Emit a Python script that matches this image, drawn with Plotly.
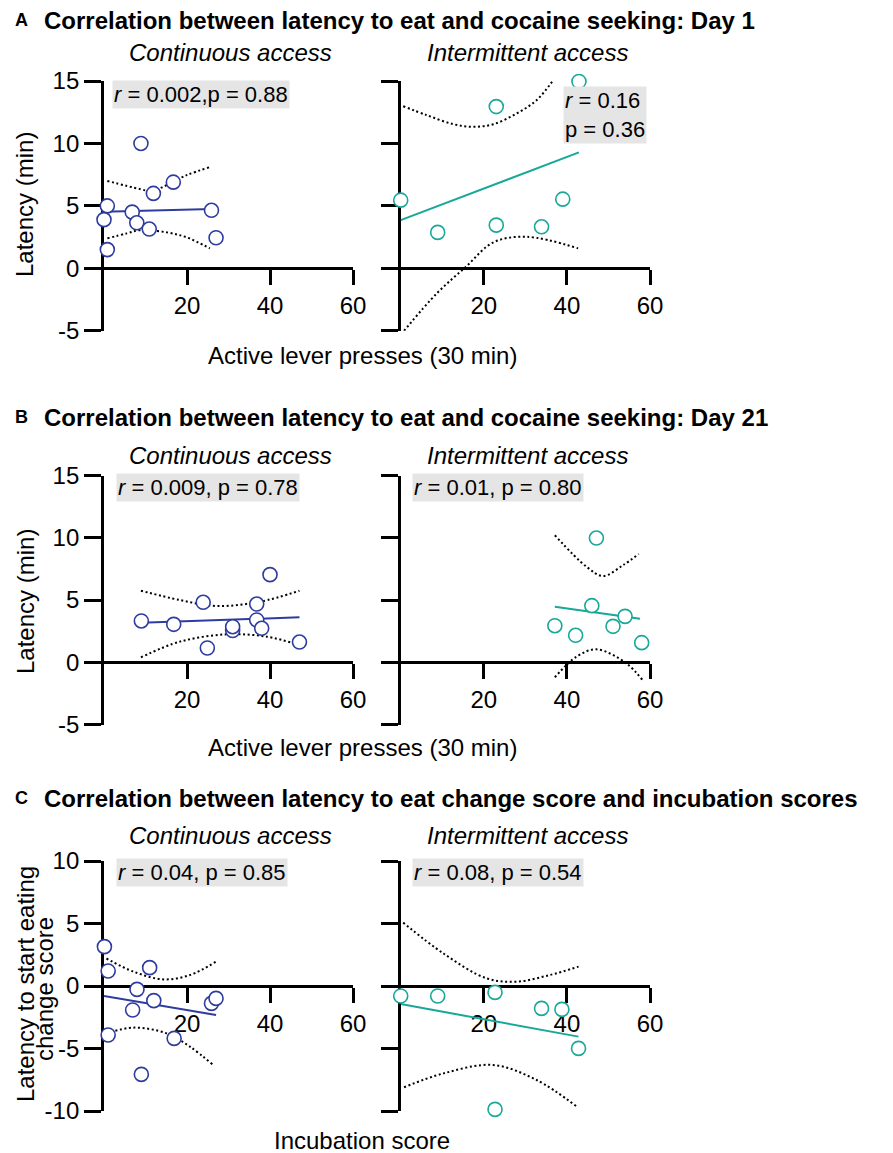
import plotly.graph_objects as go

# ---------------- data ----------------
# Panel A - Day 1
A_cont_x = [0.8, 0.0, 0.8, 8.9, 6.8, 7.9, 10.9, 11.9, 16.7, 25.9, 27.0]
A_cont_y = [5.0, 3.9, 1.5, 10.0, 4.5, 3.65, 3.15, 6.0, 6.9, 4.65, 2.45]
A_cont_fit_x = [0.0, 26.0]
A_cont_fit_y = [4.53, 4.75]
A_cont_up_x = [0.8, 8.7, 11.5, 19.9, 25.5]
A_cont_up_y = [7.0, 6.35, 6.2, 7.46, 8.1]
A_cont_lo_x = [0.8, 5.5, 8.7, 15.1, 19.9, 25.5]
A_cont_lo_y = [2.4, 2.8, 3.06, 2.88, 2.48, 1.6]

A_int_x = [0.0, 8.9, 23.0, 23.0, 33.9, 39.0, 42.9]
A_int_y = [5.46, 2.88, 12.95, 3.46, 3.33, 5.54, 14.96]
A_int_fit_x = [0.0, 42.9]
A_int_fit_y = [3.86, 9.28]
A_int_up_x = [0.6, 6.3, 12.7, 17.5, 22.3, 27.9, 32.7, 36.7]
A_int_up_y = [12.98, 12.26, 11.54, 11.33, 11.54, 12.4, 13.46, 15.06]
A_int_lo_x = [0.8, 8.7, 15.7, 22.3, 30.3, 42.7]
A_int_lo_y = [-5.0, -2.0, 0.13, 2.08, 2.53, 1.6]

# Panel B - Day 21
B_cont_x = [9.0, 16.8, 23.9, 24.9, 31.0, 31.0, 36.8, 36.8, 38.0, 40.0, 47.1]
B_cont_y = [3.32, 3.05, 4.82, 1.15, 2.55, 2.86, 4.68, 3.4, 2.73, 7.04, 1.63]
B_cont_fit_x = [9.0, 47.1]
B_cont_fit_y = [3.18, 3.61]
B_cont_up_x = [8.9, 18.3, 27.2, 37.6, 47.1]
B_cont_up_y = [5.75, 5.0, 4.52, 4.87, 5.75]
B_cont_lo_x = [8.9, 18.3, 29.6, 39.2, 47.1]
B_cont_lo_y = [0.4, 1.66, 2.25, 2.06, 1.39]

B_int_x = [37.1, 42.1, 46.0, 47.1, 51.1, 54.0, 58.0]
B_int_y = [2.94, 2.17, 4.55, 9.98, 2.89, 3.69, 1.58]
B_int_fit_x = [37.1, 57.6]
B_int_fit_y = [4.47, 3.5]
B_int_up_x = [37.1, 44.7, 48.7, 53.5, 57.3]
B_int_up_y = [10.2, 7.68, 6.93, 7.8, 8.7]
B_int_lo_x = [37.1, 42.3, 47.1, 54.3, 58.3]
B_int_lo_y = [-1.2, 0.45, 1.04, -0.08, -1.47]

# Panel C - change score vs incubation score
C_cont_x = [0.1, 1.0, 1.0, 6.9, 7.95, 9.0, 11.0, 12.0, 16.9, 25.9, 27.0]
C_cont_y = [3.15, 1.2, -3.92, -1.92, -0.27, -7.07, 1.47, -1.17, -4.19, -1.39, -0.99]
C_cont_fit_x = [0.0, 27.0]
C_cont_fit_y = [-0.8, -2.32]
C_cont_up_x = [0.6, 7.1, 14.3, 20.7, 27.0]
C_cont_up_y = [2.2, 1.15, 0.53, 0.88, 1.95]
C_cont_lo_x = [0.6, 7.1, 15.1, 20.7, 26.3]
C_cont_lo_y = [-3.79, -3.33, -3.79, -4.85, -6.32]

C_int_x = [0.0, 8.9, 22.7, 22.7, 33.9, 38.8, 42.8]
C_int_y = [-0.8, -0.8, -0.51, -9.87, -1.79, -1.87, -4.99]
C_int_fit_x = [0.0, 42.8]
C_int_fit_y = [-1.44, -4.05]
C_int_up_x = [0.6, 10.3, 20.7, 27.9, 35.9, 42.8]
C_int_up_y = [5.07, 2.6, 0.61, 0.35, 0.88, 1.55]
C_int_lo_x = [0.8, 10.3, 22.2, 32.7, 42.4]
C_int_lo_y = [-8.1, -6.99, -6.32, -7.52, -9.65]

x_ticks = [20, 40, 60]
y_ticks_AB = [-5, 0, 5, 10, 15]
y_ticks_C = [-10, -5, 0, 5, 10]

stats_text = [
    "<i>r</i> = 0.002,p = 0.88",
    "<i>r</i> = 0.16<br>p = 0.36",
    "<i>r</i> = 0.009, p = 0.78",
    "<i>r</i> = 0.01, p = 0.80",
    "<i>r</i> = 0.04, p = 0.85",
    "<i>r</i> = 0.08, p = 0.54",
]
panel_titles = [
    "Correlation between latency to eat and cocaine seeking: Day 1",
    "Correlation between latency to eat and cocaine seeking: Day 21",
    "Correlation between latency to eat change score and incubation scores",
]
panel_letters = ["A", "B", "C"]
sub_titles = ["Continuous access", "Intermittent access"]
x_titles = ["Active lever presses (30 min)", "Active lever presses (30 min)", "Incubation score"]
y_titles = ["Latency (min)", "Latency (min)"]
y_title_C = ["Latency to start eating", "change score"]

# ---------------- layout helpers ----------------
W, H = 893, 1153
OFF = 8  # page body margin
FONT = "Liberation Sans, Arial, Helvetica, sans-serif"
BLUE = "#2D3C9E"
TEAL = "#17A898"


def px(x):
    return (x - OFF) / W


def py(y):
    return 1 - (y - OFF) / H


panels = [
    dict(xd=(104, 353), yd=(81, 330.8), yr=[-5, 15], yt=y_ticks_AB, color=BLUE,
         pts=(A_cont_x, A_cont_y), fit=(A_cont_fit_x, A_cont_fit_y),
         up=(A_cont_up_x, A_cont_up_y), lo=(A_cont_lo_x, A_cont_lo_y), left=True),
    dict(xd=(400.7, 650), yd=(81, 330.8), yr=[-5, 15], yt=y_ticks_AB, color=TEAL,
         pts=(A_int_x, A_int_y), fit=(A_int_fit_x, A_int_fit_y),
         up=(A_int_up_x, A_int_up_y), lo=(A_int_lo_x, A_int_lo_y), left=False),
    dict(xd=(104, 353), yd=(475.5, 724.6), yr=[-5, 15], yt=y_ticks_AB, color=BLUE,
         pts=(B_cont_x, B_cont_y), fit=(B_cont_fit_x, B_cont_fit_y),
         up=(B_cont_up_x, B_cont_up_y), lo=(B_cont_lo_x, B_cont_lo_y), left=True),
    dict(xd=(400.7, 650), yd=(475.5, 724.6), yr=[-5, 15], yt=y_ticks_AB, color=TEAL,
         pts=(B_int_x, B_int_y), fit=(B_int_fit_x, B_int_fit_y),
         up=(B_int_up_x, B_int_up_y), lo=(B_int_lo_x, B_int_lo_y), left=False),
    dict(xd=(104, 353), yd=(861, 1111), yr=[-10, 10], yt=y_ticks_C, color=BLUE,
         pts=(C_cont_x, C_cont_y), fit=(C_cont_fit_x, C_cont_fit_y),
         up=(C_cont_up_x, C_cont_up_y), lo=(C_cont_lo_x, C_cont_lo_y), left=True),
    dict(xd=(400.7, 650), yd=(861, 1111), yr=[-10, 10], yt=y_ticks_C, color=TEAL,
         pts=(C_int_x, C_int_y), fit=(C_int_fit_x, C_int_fit_y),
         up=(C_int_up_x, C_int_up_y), lo=(C_int_lo_x, C_int_lo_y), left=False),
]

fig = go.Figure()
layout = {}

for i, p in enumerate(panels):
    k = "" if i == 0 else str(i + 1)
    xa, ya = "x" + k, "y" + k
    # confidence bands (dotted)
    for cx, cy in (p["up"], p["lo"]):
        fig.add_trace(go.Scatter(x=cx, y=cy, mode="lines", xaxis=xa, yaxis=ya,
                                 line=dict(color="black", width=2, dash="2px,2.6px", shape="spline"),
                                 hoverinfo="skip", showlegend=False))
    # regression line
    fig.add_trace(go.Scatter(x=p["fit"][0], y=p["fit"][1], mode="lines", xaxis=xa, yaxis=ya,
                             line=dict(color=p["color"], width=2), showlegend=False))
    # points
    fig.add_trace(go.Scatter(x=p["pts"][0], y=p["pts"][1], mode="markers", xaxis=xa, yaxis=ya,
                             cliponaxis=False,
                             marker=dict(size=14, color="white", line=dict(color=p["color"], width=1.6)),
                             showlegend=False))

    yd = (py(p["yd"][1]), py(p["yd"][0]))
    r0, r1 = p["yr"]
    xpos = yd[0] + (0 - r0) / (r1 - r0) * (yd[1] - yd[0])
    layout["xaxis" + k] = dict(
        domain=[px(p["xd"][0]), px(p["xd"][1])], range=[0, 60], anchor="free", position=xpos,
        tickvals=x_ticks, ticktext=[str(v) for v in x_ticks],
        ticks="outside", ticklen=15, tickwidth=2.6, tickcolor="black",
        showline=True, linewidth=2.8, linecolor="black", showgrid=False, zeroline=False,
        tickfont=dict(family=FONT, size=24, color="black"), layer="below traces",
        fixedrange=True, automargin=False,
    )
    layout["yaxis" + k] = dict(
        domain=list(yd), range=p["yr"], anchor=xa, tickvals=p["yt"],
        ticktext=[str(v) for v in p["yt"]],
        ticks="outside", ticklen=17, tickwidth=2.6, tickcolor="black",
        showline=True, linewidth=2.8, linecolor="black", showgrid=False, zeroline=False,
        showticklabels=p["left"], tickfont=dict(family=FONT, size=24, color="black"),
        layer="below traces", fixedrange=True, automargin=False,
    )

annotations = []


def ann(text, x, y, size, xanchor="center", yanchor="middle", **kw):
    annotations.append(dict(text=text, x=px(x), y=py(y), xref="paper", yref="paper",
                            xanchor=xanchor, yanchor=yanchor, showarrow=False,
                            font=dict(family=FONT, size=size, color="black"), **kw))


title_y = [20, 417, 798]
sub_y = [52, 456, 835]
xt_y = [355, 747, 1140]
for j in range(3):
    ann("<b>" + panel_letters[j] + "</b>", 13, title_y[j], 18, xanchor="left")
    ann("<b>" + panel_titles[j] + "</b>", 42, title_y[j], 24, xanchor="left")
    ann("<i>" + sub_titles[0] + "</i>", 230, sub_y[j], 24)
    ann("<i>" + sub_titles[1] + "</i>", 527, sub_y[j], 24)
    ann(x_titles[j], 362, xt_y[j], 24)
ann(y_titles[0], 25, 205, 24, textangle=-90)
ann(y_titles[1], 25, 602, 24, textangle=-90)
ann(y_title_C[0], 25, 984, 24, textangle=-90)
ann(y_title_C[1], 44, 989, 24, textangle=-90)

stat_pos = [(112, 94.5), (563, 115.5), (116, 487.7), (412, 487.7), (116, 872.7), (412, 872.3)]
for t, (sx, sy) in zip(stats_text, stat_pos):
    ann(t, sx, sy, 22, xanchor="left", align="left", bgcolor="#E5E5E5", borderpad=1)

fig.update_layout(
    width=W, height=H, margin=dict(l=0, r=0, t=0, b=0, autoexpand=False),
    paper_bgcolor="white", plot_bgcolor="white", template="none",
    annotations=annotations, showlegend=False, **layout,
)

fig.write_html("out.html")
